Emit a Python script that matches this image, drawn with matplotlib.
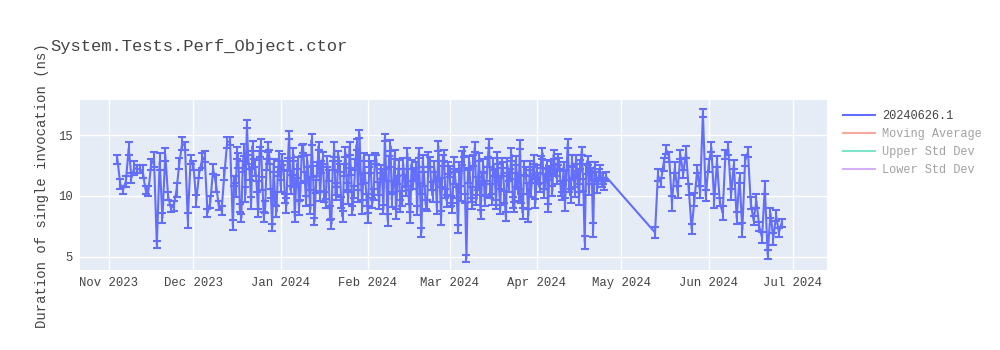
import matplotlib
matplotlib.use("Agg")
import matplotlib.pyplot as plt
import matplotlib.dates as mdates
from matplotlib.lines import Line2D
import pandas as pd

plt.rcParams["font.family"] = ["Liberation Mono", "DejaVu Sans Mono"]

# first run of each day: mean duration (ns)
nov_23 = [13.0, 11.0, 10.5, 11.2, 13.9, 11.5, 12.3, 12.2, 12.2, 12.0, 10.5, 10.4, 12.6, 13.0,
          6.0, 12.8, 8.2, 13.4, 10.0, 9.0, 9.2, 10.5, 12.7, 14.3, 14.1, 8.0, 13.0]
dec_23 = [12.5, 9.6, 11.8, 12.9, 13.2, 8.6, 9.5, 12.2, 11.0, 9.2, 8.8, 11.8, 14.4, 14.5, 7.6,
          10.5, 12.9, 8.2, 13.8, 15.9, 11.8, 14.1, 12.3, 8.6, 14.2, 8.3, 12.6, 13.2, 7.4, 9.8, 12.0]
jan_24 = [10.8, 12.5, 9.2, 15.0, 11.3, 8.3, 12.7, 10.4, 13.9, 9.6, 11.0, 14.6, 7.9, 12.2, 10.0,
          13.1, 9.4, 11.7, 7.7, 13.8, 10.6, 12.3, 8.3, 13.6, 9.9, 12.0, 10.3, 14.2, 15.1, 9.1, 11.5]
feb_24 = [8.2, 12.4, 10.1, 13.0, 9.5, 11.8, 14.8, 8.0, 14.1, 10.7, 8.5, 12.6, 9.8, 11.2, 13.5,
          8.2, 10.9, 12.3, 13.5, 7.0, 11.4, 9.2, 12.8, 10.0, 11.6, 14.1, 8.2, 13.3, 9.6]
mar_24 = [12.0, 9.0, 11.5, 7.3, 10.2, 13.6, 4.9, 12.8, 9.4, 14.0, 11.0, 8.5, 12.5, 10.6, 14.3,
          9.7, 11.9, 13.1, 8.9, 12.2, 8.3, 10.8, 13.4, 9.1, 11.3, 14.2, 8.6, 12.0, 8.4, 10.5, 13.0]
apr_24 = [12.0, 10.7, 13.5, 11.2, 9.0, 12.4, 13.4, 11.5, 12.7, 10.0, 9.3, 14.3, 10.0, 11.9, 13.0,
          9.8, 13.7, 6.2, 12.9, 12.3, 7.2, 11.6, 11.7, 11.1, 10.9]
may_24 = [7.0, 11.7, 11.1, 12.6, 13.8, 13.2, 9.4, 12.3, 10.3, 13.4, 11.8, 13.6, 10.5, 7.3, 9.7,
          12.2, 10.3, 16.8, 10.0]
jun_24 = [12.5, 14.0, 9.6, 12.8, 9.5, 8.6, 13.4, 13.9, 10.1, 12.6, 8.2, 11.5, 7.2, 12.9, 13.6,
          9.4, 8.0, 9.6, 7.5, 6.6, 10.7, 5.2, 8.6, 6.5, 8.4, 7.0, 7.8]

nov_sd = [0.35, 0.4, 0.3, 0.45, 0.5, 0.4, 0.6, 0.3, 0.3, 0.5, 0.35, 0.4, 0.45, 0.6, 0.3, 0.7,
          0.4, 0.5, 0.35, 0.3, 0.4, 0.55, 0.45, 0.5, 0.35, 0.6, 0.4]
dec_sd = [0.4, 0.5, 0.35, 0.6, 0.45, 0.3, 0.5, 0.4, 0.7, 0.35, 0.4, 0.5, 0.45, 0.3, 0.4, 0.55,
          0.6, 0.35, 0.5, 0.3, 0.45, 0.4, 0.65, 0.35, 0.5, 0.4, 0.45, 0.6, 0.3, 0.5, 0.4]
jan_sd = [0.5, 0.4, 0.6, 0.35, 0.45, 0.4, 0.5, 0.7, 0.35, 0.4, 0.55, 0.45, 0.3, 0.6, 0.4, 0.5,
          0.35, 0.45, 0.4, 0.6, 0.5, 0.35, 0.45, 0.4, 0.55, 0.3, 0.5, 0.45, 0.35, 0.6, 0.4]
feb_sd = [0.4, 0.5, 0.45, 0.35, 0.6, 0.4, 0.3, 0.5, 0.45, 0.55, 0.4, 0.35, 0.6, 0.5, 0.4, 0.45,
          0.3, 0.5, 0.4, 0.35, 0.6, 0.45, 0.4, 0.5, 0.35, 0.4, 0.55, 0.45, 0.5]
mar_sd = [0.45, 0.4, 0.5, 0.35, 0.6, 0.4, 0.3, 0.5, 0.45, 0.4, 0.55, 0.35, 0.5, 0.6, 0.4, 0.45,
          0.3, 0.5, 0.4, 0.6, 0.35, 0.45, 0.5, 0.4, 0.55, 0.35, 0.45, 0.4, 0.5, 0.6, 0.4]
apr_sd = [0.5, 0.4, 0.45, 0.6, 0.35, 0.5, 0.4, 0.55, 0.45, 0.35, 0.5, 0.4, 0.6, 0.45, 0.4, 0.5,
          0.35, 0.55, 0.4, 0.45, 0.6, 0.4, 0.5, 0.35, 0.45]
may_sd = [0.45, 0.5, 0.4, 0.55, 0.35, 0.4, 0.6, 0.45, 0.5, 0.4, 0.35, 0.5, 0.45, 0.4, 0.55,
          0.35, 0.5, 0.3, 0.45]
jun_sd = [0.5, 0.4, 0.55, 0.45, 0.35, 0.6, 0.4, 0.5, 0.45, 0.35, 0.5, 0.4, 0.55, 0.45, 0.4, 0.5,
          0.35, 0.6, 0.4, 0.45, 0.5, 0.35, 0.4, 0.5, 0.45, 0.4, 0.35]

# second run of the day, from Dec 15 onwards
dec_23_pm = [11.2, 13.5, 9.0, 12.4, 10.1, 13.0, 9.4, 12.7, 10.8, 13.6, 11.0, 9.1, 14.0, 10.2,
             12.5, 8.7, 13.3]
jan_24_pm = [13.0, 9.8, 12.6, 10.5, 13.4, 11.1, 9.0, 13.7, 11.6, 12.9, 8.9, 12.0, 10.8, 14.1,
             12.4, 9.9, 12.8, 8.6, 12.5, 10.2, 13.3, 9.5, 12.1, 10.7, 13.9, 8.8, 12.6, 10.0,
             11.4, 13.2, 9.7]
feb_24_pm = [12.9, 9.4, 13.1, 10.6, 12.2, 8.9, 11.7, 12.8, 9.7, 13.4, 11.3, 9.2, 12.7, 10.4,
             9.9, 12.6, 11.8, 8.8, 10.6, 12.9, 9.3, 13.0, 10.8, 12.4, 9.0, 11.1, 12.9, 10.2, 12.3]
mar_24_pm = [9.6, 12.7, 10.3, 12.4, 13.1, 9.8, 11.6, 10.1, 12.9, 9.7, 13.2, 11.4, 9.6, 12.8,
             10.4, 12.6, 9.3, 11.0, 12.7, 9.9, 12.5, 11.8, 9.5, 12.9, 10.1, 9.8, 12.3, 10.6,
             12.5, 11.9, 9.4]
apr_24_pm = [11.4, 12.8, 10.2, 12.6, 11.9, 10.4, 12.1, 13.0, 10.6, 12.4, 11.7, 10.8, 12.9, 10.3,
             11.5, 12.6, 10.9, 12.2, 10.5, 11.8, 12.4, 10.6, 12.0, 11.4, 11.6]

dec_pm_sd = [0.4, 0.5, 0.35, 0.45, 0.6, 0.4, 0.5, 0.35, 0.45, 0.4, 0.55, 0.5, 0.4, 0.35, 0.5,
             0.45, 0.4]
jan_pm_sd = [0.45, 0.4, 0.55, 0.35, 0.5, 0.4, 0.6, 0.45, 0.35, 0.5, 0.4, 0.45, 0.55, 0.35, 0.5,
             0.4, 0.45, 0.6, 0.35, 0.5, 0.4, 0.45, 0.5, 0.35, 0.55, 0.4, 0.45, 0.5, 0.4, 0.35, 0.5]
feb_pm_sd = [0.5, 0.4, 0.45, 0.55, 0.35, 0.4, 0.5, 0.45, 0.6, 0.4, 0.35, 0.5, 0.45, 0.4, 0.55,
             0.35, 0.5, 0.4, 0.45, 0.5, 0.4, 0.6, 0.35, 0.45, 0.5, 0.4, 0.45, 0.35, 0.5]
mar_pm_sd = [0.4, 0.5, 0.45, 0.35, 0.55, 0.4, 0.5, 0.6, 0.45, 0.4, 0.35, 0.5, 0.45, 0.4, 0.55,
             0.5, 0.35, 0.45, 0.4, 0.5, 0.6, 0.4, 0.45, 0.35, 0.5, 0.4, 0.55, 0.45, 0.4, 0.5, 0.35]
apr_pm_sd = [0.45, 0.5, 0.4, 0.35, 0.55, 0.4, 0.5, 0.45, 0.6, 0.35, 0.4, 0.5, 0.45, 0.4, 0.55,
             0.35, 0.5, 0.4, 0.45, 0.5, 0.4, 0.35, 0.5, 0.45, 0.4]

# no runs between late April and mid May
am = pd.DataFrame({
    "date": pd.date_range("2023-11-04", "2024-04-25").append(pd.date_range("2024-05-13", "2024-06-27")),
    "mean": nov_23 + dec_23 + jan_24 + feb_24 + mar_24 + apr_24 + may_24 + jun_24,
    "std": nov_sd + dec_sd + jan_sd + feb_sd + mar_sd + apr_sd + may_sd + jun_sd,
})
pm = pd.DataFrame({
    "date": pd.date_range("2023-12-15 12:00", "2024-04-25 12:00"),
    "mean": dec_23_pm + jan_24_pm + feb_24_pm + mar_24_pm + apr_24_pm,
    "std": dec_pm_sd + jan_pm_sd + feb_pm_sd + mar_pm_sd + apr_pm_sd,
})
runs = pd.concat([am, pm]).sort_values("date")

build = "20240626.1"
extra_series = ["Moving Average", "Upper Std Dev", "Lower Std Dev"]
extra_colors = ["#ef553b", "#00cc96", "#ab63fa"]
blue = "#636efa"
text_color = "#444444"

fig = plt.figure(figsize=(10, 3.5), dpi=100)
ax = fig.add_axes([0.08, 1 - 270 / 350, 0.747, 170 / 350])
ax.set_facecolor("#e5ecf6")

ax.errorbar(runs["date"], runs["mean"], yerr=runs["std"], color=blue, ecolor=blue, lw=1.5,
            elinewidth=1.5, capsize=3.2, capthick=1.5, zorder=3)

ax.set_xlim(pd.Timestamp("2023-10-21 17:00"), pd.Timestamp("2024-07-13 02:00"))
ax.set_ylim(3.93, 17.87)
ax.set_yticks([5, 10, 15])
ax.xaxis.set_major_locator(mdates.MonthLocator())
ax.xaxis.set_major_formatter(mdates.DateFormatter("%b %Y"))
ax.grid(True, color="white", lw=1)
ax.set_axisbelow(True)
for s in ax.spines.values():
    s.set_visible(False)
ax.tick_params(length=0, labelsize=8.8, colors=text_color, pad=5)

fig.text(0.05, 1 - 47 / 350, "System.Tests.Perf_Object.ctor", fontsize=12.3,
         color=text_color, va="center", ha="left")
fig.text(0.042, 1 - 186 / 350, "Duration of single invocation (ns)", fontsize=10,
         color=text_color, rotation=90, va="center", ha="center")

handles = [Line2D([], [], color=blue, lw=1.5)]
handles += [Line2D([], [], color=c, lw=1.5, alpha=0.5) for c in extra_colors]
leg = fig.legend(handles, [build] + extra_series, loc="upper left",
                 bbox_to_anchor=(0.838, 1 - 105 / 350), frameon=False, fontsize=8.6,
                 handlelength=2.7, handletextpad=0.6, labelspacing=0.52, borderaxespad=0)
for i, t in enumerate(leg.get_texts()):
    t.set_color(text_color)
    if i > 0:
        t.set_alpha(0.5)

fig.savefig("out.png")
